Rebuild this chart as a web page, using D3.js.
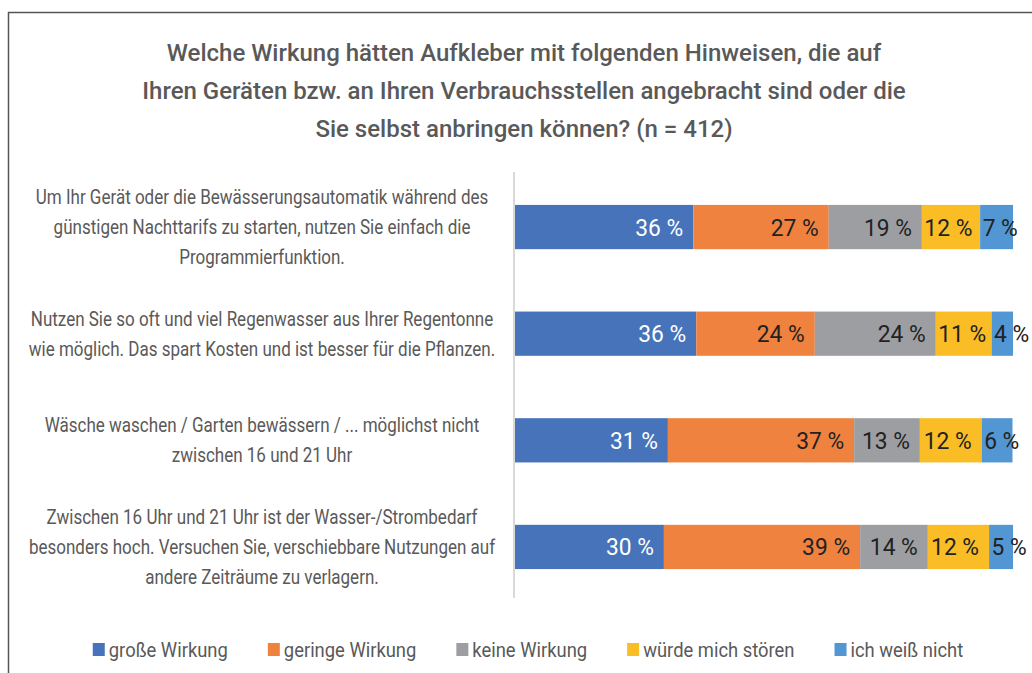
<!DOCTYPE html>
<html><head><meta charset="utf-8">
<script src="https://cdn.jsdelivr.net/npm/d3@7"></script>
<style>
body{margin:0;background:#fff}
svg{display:block}
text{font-family:"Roboto","Liberation Sans",sans-serif}
</style>
</head><body><svg id="c" width="1032" height="673"></svg>
<script>
const titleLines = [
  "Welche Wirkung hätten Aufkleber mit folgenden Hinweisen, die auf",
  "Ihren Geräten bzw. an Ihren Verbrauchsstellen angebracht sind oder die",
  "Sie selbst anbringen können? (n = 412)"
];
const categories = [
  ["Um Ihr Gerät oder die Bewässerungsautomatik während des", "günstigen Nachttarifs zu starten, nutzen Sie einfach die", "Programmierfunktion."],
  ["Nutzen Sie so oft und viel Regenwasser aus Ihrer Regentonne", "wie möglich. Das spart Kosten und ist besser für die Pflanzen."],
  ["Wäsche waschen / Garten bewässern / ... möglichst nicht", "zwischen 16 und 21 Uhr"],
  ["Zwischen 16 Uhr und 21 Uhr ist der Wasser-/Strombedarf", "besonders hoch. Versuchen Sie, verschiebbare Nutzungen auf", "andere Zeiträume zu verlagern."]
];
const seriesNames = ["große Wirkung", "geringe Wirkung", "keine Wirkung", "würde mich stören", "ich weiß nicht"];
const seriesColors = ["#4673b9", "#f08240", "#9d9ea2", "#fbbd26", "#5297d3"];
const grosseWirkung  = [35.8, 36.4, 30.7, 29.9];
const geringeWirkung = [27.2, 23.8, 37.4, 39.4];
const keineWirkung   = [18.7, 24.3, 13.2, 13.6];
const wuerdeStoeren  = [11.7, 11.2, 12.4, 12.3];
const weissNicht     = [6.6, 4.3, 6.2, 4.8];

const series = [grosseWirkung, geringeWirkung, keineWirkung, wuerdeStoeren, weissNicht];
const svg = d3.select("#c");
const textColor = "#595959";

function place(sel, fx, fy, s) {
  sel.attr("x", 0).attr("y", 0)
    .attr("transform", (d, i) => `translate(${fx(d, i)},${fy(d, i)}) scale(${s},1)`);
}

// frame
svg.append("path").attr("d", "M8.5,673 L8.5,12.5 L1032,12.5").attr("fill", "none").attr("stroke", "#555").attr("stroke-width", 1.5);

// title
svg.append("g").selectAll("text").data(titleLines).join("text")
  .attr("x", 524).attr("y", (d, i) => 61 + i * 38)
  .attr("text-anchor", "middle").attr("fill", textColor)
  .attr("font-size", 24).attr("font-weight", 500)
  .text(d => d);

const x = d3.scaleLinear().domain([0, 100]).range([515, 1013]);
const y = d3.scaleBand().domain(d3.range(categories.length)).range([174, 600]).paddingInner(0.585).paddingOuter(0.29);

// axis line
svg.append("line").attr("x1", 514).attr("x2", 514).attr("y1", 172).attr("y2", 598)
  .attr("stroke", "#d9d9d9").attr("stroke-width", 2);

// stack
const stackData = categories.map((c, i) => {
  const o = {idx: i};
  series.forEach((s, k) => o["s" + k] = s[i]);
  return o;
});
const stack = d3.stack().keys(series.map((s, k) => "s" + k))(stackData);

const gBars = svg.append("g");
stack.forEach((layer, k) => {
  gBars.append("g").selectAll("rect").data(layer).join("rect")
    .attr("x", d => x(d[0])).attr("width", d => x(d[1]) - x(d[0]))
    .attr("y", d => y(d.data.idx)).attr("height", y.bandwidth())
    .attr("fill", seriesColors[k]);
});
const labelScale = 0.95;
stack.forEach((layer, k) => {
  gBars.append("g").selectAll("text").data(layer).join("text")
    .attr("font-size", 24)
    .attr("fill", k === 0 ? "#fff" : "#222")
    .attr("text-anchor", "start")
    .text(d => Math.round(d[1] - d[0]) + " %")
    .each(function(d) {
      const w = this.getComputedTextLength() * labelScale;
      const x0 = x(d[0]), x1 = x(d[1]);
      const xs = Math.max(x1 - 10 - w, x0 + 2.5);
      const yy = y(d.data.idx) + y.bandwidth() / 2 + 8.5;
      d3.select(this).attr("x", 0).attr("y", 0)
        .attr("transform", `translate(${xs},${yy}) scale(${labelScale},1)`);
    });
});

// category labels
const gCat = svg.append("g");
categories.forEach((lines, i) => {
  const cy = y(i) + y.bandwidth() / 2;
  const n = lines.length;
  gCat.append("g").selectAll("text").data(lines).join("text")
    .attr("text-anchor", "middle").attr("fill", textColor)
    .attr("font-size", 20.5)
    .text(d => d)
    .call(place, () => 262, (d, j) => cy + 7 + (j - (n - 1) / 2) * 30, 0.83);
});

// legend
const legScale = 0.92;
const gLeg = svg.append("g");
let lx = 0;
seriesNames.forEach((name, k) => {
  const it = gLeg.append("g");
  it.append("rect").attr("x", 0).attr("y", -7).attr("width", 12).attr("height", 13).attr("fill", seriesColors[k]);
  const t = it.append("text").attr("font-size", 20).attr("fill", textColor).text(name)
    .attr("transform", `translate(16,7) scale(${legScale},1)`);
  const w = 16 + t.node().getComputedTextLength() * legScale;
  it.attr("transform", `translate(${lx},650)`);
  lx += w + 40;
});
const totalW = lx - 40;
gLeg.attr("transform", `translate(${528 - totalW / 2},0)`);
</script>
</body></html>
